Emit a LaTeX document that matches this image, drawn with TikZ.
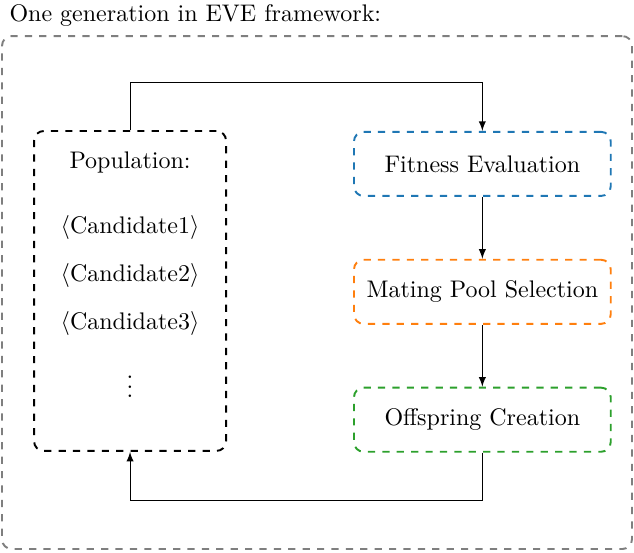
\documentclass[tikz,border=0pt]{standalone}
\usetikzlibrary{arrows}
\definecolor{tabblue}{HTML}{1F77B4}
\definecolor{taborange}{HTML}{FF7F0E}
\definecolor{tabgreen}{HTML}{2CA02C}
\definecolor{tabgray}{HTML}{7F7F7F}
\tikzstyle{stage} = [rectangle, draw, dashed, thick, rounded corners,
    text centered, minimum width=107pt, minimum height=26.7pt]
\tikzstyle{popbox} = [rectangle, draw, dashed, thick, rounded corners,
    minimum width=80pt, minimum height=133.3pt]
\tikzstyle{outerbox} = [rectangle, draw=tabgray, dashed, thick, rounded corners,
    minimum width=262.5pt, minimum height=213.75pt]

\begin{document}
\begin{tikzpicture}[->,>=latex,thin,node distance=53.3pt]
  \useasboundingbox (0,0) rectangle (264.2pt,-230.4pt);

  \node[outerbox] (frame) at (132.1pt,-121.9pt) {};
  \node[anchor=south west] (title) at (frame.north west) {One generation in EVE framework:};

  % population
  \node[popbox]  (pop)    at (54.2pt,-121.25pt) {};
  \node          (plabel) at (54.2pt,-67.9pt)   {Population:};
  \node          (cand1)  [below of=plabel, node distance=26.7pt] {$\langle$Candidate1$\rangle$};
  \node          (cand2)  [below of=cand1, node distance=20pt]    {$\langle$Candidate2$\rangle$};
  \node          (cand3)  [below of=cand2, node distance=20.4pt]  {$\langle$Candidate3$\rangle$};
  \node          (dots)   [below of=cand3, node distance=23.3pt]  {$\vdots$};

  % evolution steps
  \node[stage,draw=tabblue]   (fit)  at (201pt,-68.3pt) {Fitness Evaluation};
  \node[stage,draw=taborange] (mate) [below of=fit]     {Mating Pool Selection};
  \node[stage,draw=tabgreen]  (off)  [below of=mate]    {Offspring Creation};

  \path (fit)  edge (mate)
        (mate) edge (off);
  \draw (pop.north) -- ++(0,20pt) -| (fit.north);
  \draw (off.south) -- ++(0,-20pt) -| (pop.south);
\end{tikzpicture}
\end{document}
